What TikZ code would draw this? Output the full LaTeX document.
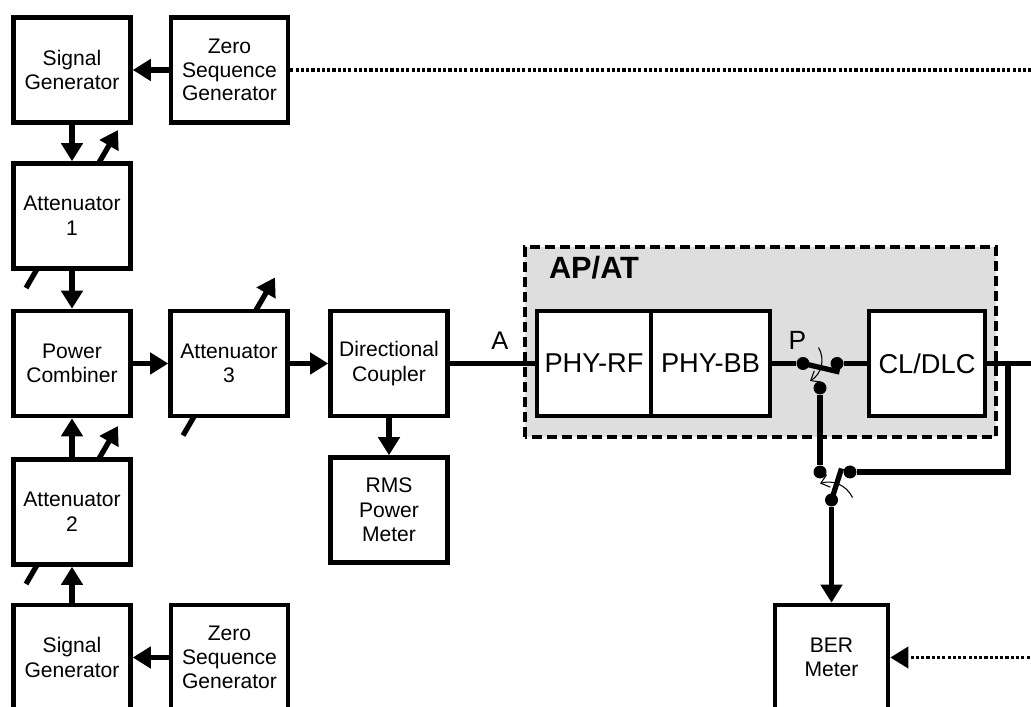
\documentclass[tikz,border=0pt]{standalone}
\usepackage{fontspec}
\setmainfont{Liberation Sans}
\usetikzlibrary{arrows.meta,positioning,calc,backgrounds}

\begin{document}
\begin{tikzpicture}[every node/.style={align=center},
    block/.style={draw,line width=2.6pt,fill=white,minimum width=2.34cm,minimum height=2.1cm,inner sep=0pt,font=\fontsize{12}{14}\selectfont},
    bigblock/.style={block,font=\fontsize{15.5}{18}\selectfont},
    contact/.style={circle,fill,inner sep=0pt,minimum size=0.26cm},
    wire/.style={line width=3pt},
    sig/.style={wire,-{Triangle[length=0.36cm,width=0.42cm]}},
    sync/.style={line width=2.2pt,dash pattern=on 1.8pt off 1.2pt},
    turn/.style={line width=0.6pt,-{Straight Barb[length=1.6mm,width=2.6mm]}}]
  \useasboundingbox (0,0) rectangle (20.62,14.12);
  \clip (0,0) rectangle (20.62,14.12);
  % AP/AT region
  \draw[fill=black!13,line width=2.2pt,dash pattern=on 0.2cm off 0.1cm] (10.5,5.38) rectangle (19.92,9.18);
  \node[font=\bfseries\fontsize{17.5}{20}\selectfont] (apat) at (11.88,8.76) {AP/AT};
  % test set-up
  \node[block] (sgtop) at (1.44,12.72) {Signal\\Generator};
  \node[block,font=\fontsize{12}{13.5}\selectfont] (zsgtop) at (4.59,12.72) {Zero\\Sequence\\Generator};
  \node[block] (att1) at (1.44,9.80) {Attenuator\\1};
  \node[block] (comb) at (1.44,6.85) {Power\\Combiner};
  \node[block] (att3) at (4.58,6.85) {Attenuator\\3};
  \node[block] (coupler) at (7.78,6.85) {Directional\\Coupler};
  \node[block] (rms) at (7.78,3.92) {RMS\\Power\\Meter};
  \node[block] (att2) at (1.44,3.88) {Attenuator\\2};
  \node[block] (sgbot) at (1.44,0.97) {Signal\\Generator};
  \node[block,font=\fontsize{12}{13.5}\selectfont] (zsgbot) at (4.59,0.97) {Zero\\Sequence\\Generator};
  % device under test
  \node[bigblock,outer sep=0pt,minimum width=2.28cm] (phyrf) at (11.88,6.85) {PHY-RF};
  \node[bigblock,outer sep=0pt,minimum width=2.38cm,right=0pt of phyrf] (phybb) {PHY-BB};
  \node[bigblock,minimum width=2.32cm] (cldlc) at (18.54,6.85) {CL/DLC};
  \node[font=\fontsize{15}{18}\selectfont] (plabel) at (15.95,7.32) {P};
  \node[contact] (s1a) at (16.06,6.85) {};
  \node[contact] (s1b) at (16.74,6.85) {};
  \node[contact] (s1c) at (16.40,6.36) {};
  \node[contact] (s2a) at (16.40,4.68) {};
  \node[contact] (s2b) at (17.00,4.68) {};
  \node[contact] (s2c) at (16.63,4.12) {};
  \node[block,minimum width=2.26cm] (ber) at (16.63,0.97) {BER\\Meter};
  \coordinate (edgetop) at (20.7,12.72);
  \coordinate (edgeout) at (20.7,6.85);
  \coordinate (edgeber) at (20.7,0.97);
  \coordinate (loop) at (20.16,6.85);
  % connections
  \draw[sig] (zsgtop) -- (sgtop);
  \draw[sig] (sgtop) -- (att1);
  \draw[sig] (att1) -- (comb);
  \draw[sig] (att2) -- (comb);
  \draw[sig] (sgbot) -- (att2);
  \draw[sig] (zsgbot) -- (sgbot);
  \draw[sig] (comb) -- (att3);
  \draw[sig] (att3) -- (coupler);
  \draw[sig] (coupler) -- (rms);
  \draw[wire] (coupler) -- node[pos=0.575,above=3pt,font=\fontsize{14.5}{17}\selectfont] {A} (phyrf);
  \draw[wire] (phybb) -- (s1a);
  \draw[wire] (s1b) -- (cldlc);
  \draw[wire] (s1c) -- (s2a);
  \draw[wire] (cldlc) -- (edgeout);
  \draw[wire] (loop) |- (s2b);
  \draw[sig] (s2c) -- (ber);
  \draw[sync] (zsgtop) -- (edgetop);
  \draw[sync,-{Triangle[length=0.36cm,width=0.42cm]}] (edgeber) -- (ber);
  % switches
  \draw[wire] (s1a.center) -- ($(s1b.center)+(0.05,-0.17)$);
  \draw[turn] (16.37,7.17) to[bend left=45] (16.20,6.50);
  \draw[wire] (s2c.center) -- ($(s2b.center)+(-0.17,0.07)$);
  \draw[turn] (17.05,4.17) to[bend right=40] (16.40,4.45);
  % variable attenuators
  \begin{scope}[on background layer]
    \foreach \a in {att1,att2,att3}
      \draw[sig] ($(\a.center)+(-0.92,-1.44)$) -- ($(\a.center)+(0.92,1.72)$);
  \end{scope}
\end{tikzpicture}
\end{document}
